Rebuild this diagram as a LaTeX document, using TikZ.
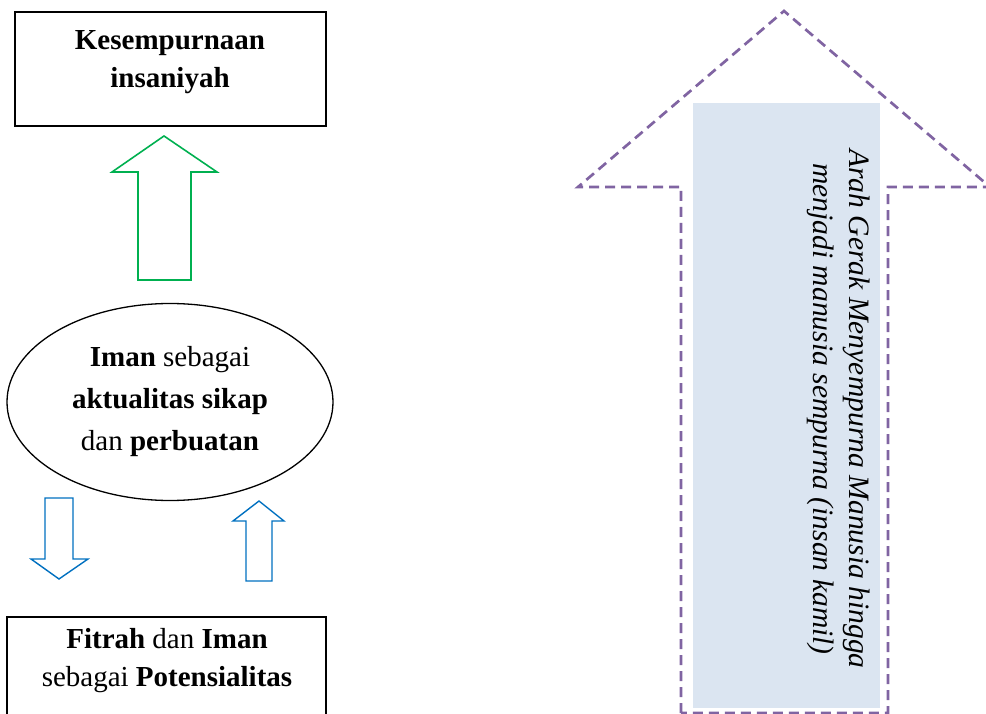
\documentclass[tikz,border=0pt]{standalone}
\usepackage{fontspec}
\setmainfont{Liberation Serif}
\usetikzlibrary{shapes.geometric}
\definecolor{dpurple}{HTML}{8064A2}
\definecolor{lblue}{HTML}{DBE5F1}
\definecolor{agreen}{HTML}{00B050}
\definecolor{ablue}{HTML}{0070C0}
\tikzset{
  boxframe/.style={draw=black, line width=1.6pt},
  boxtext/.style={align=center, font=\fontsize{29}{38}\selectfont, inner sep=0pt},
  ovaltext/.style={draw=black, line width=1.3pt, ellipse, align=center, font=\fontsize{29}{42}\selectfont, minimum width=326pt, minimum height=197pt, inner sep=0pt},
  greenarrow/.style={draw=agreen, line width=1.6pt, line join=miter},
  bluearrow/.style={draw=ablue, line width=1.4pt, line join=miter},
  bigarrow/.style={draw=dpurple, line width=2.7pt, dash pattern=on 10pt off 6pt},
  sidetext/.style={align=center, font=\fontsize{29.6}{36}\selectfont\itshape, rotate=-90, inner sep=0pt}
}
\begin{document}
\begin{tikzpicture}[x=1pt,y=-1pt]
\useasboundingbox (0,0) rectangle (986,714);
\clip (0,0) rectangle (986,714);
% top box
\node[boxframe, rectangle, minimum width=311pt, minimum height=114pt, anchor=north west] (top) at (14,11) {};
\node[boxtext] (toptext) at (170,62) {\textbf{Kesempurnaan}\\\textbf{insaniyah}};
% green up arrow
\draw[greenarrow] (138,280) -- (138,172) -- (112,172) -- (164,136) -- (217,172) -- (191,172) -- (191,280) -- cycle;
% ellipse
\node[ovaltext] (oval) at (170,402) {\textbf{Iman} sebagai\\\textbf{aktualitas sikap}\\dan \textbf{perbuatan}};
% blue arrows
\draw[bluearrow] (45,498) -- (73,498) -- (73,559) -- (88,559) -- (59,579) -- (31,559) -- (45,559) -- cycle;
\draw[bluearrow] (246,581) -- (246,521) -- (233,521) -- (259,501) -- (284,521) -- (272,521) -- (272,581) -- cycle;
% bottom box
\draw[boxframe] (7,740) -- (7,617) -- (326,617) -- (326,740);
\node[boxtext] (bottext) at (167,661) {\textbf{Fitrah} dan \textbf{Iman}\\sebagai \textbf{Potensialitas}};
% big dashed arrow
\fill[lblue] (693,103) rectangle (880,708);
\draw[bigarrow] (681,713) -- (681,187) -- (578,187) -- (784,11) -- (990,187) -- (888,187) -- (888,713) -- cycle;
\node[sidetext] (side) at (839,409) {Arah Gerak Menyempurna Manusia hingga\\menjadi manusia sempurna (insan kamil)};
\end{tikzpicture}
\end{document}
